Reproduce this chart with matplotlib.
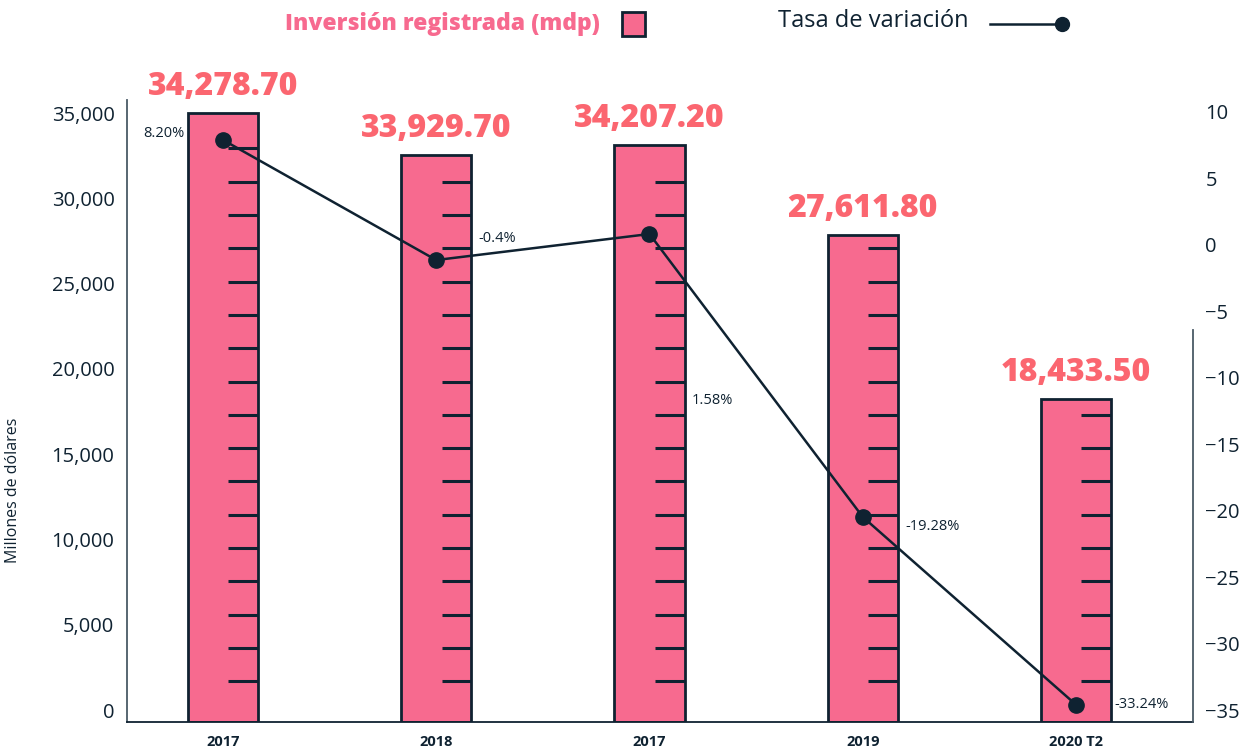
import numpy as np
import matplotlib
matplotlib.use("Agg")
import matplotlib.pyplot as plt
from matplotlib.patches import Rectangle
from matplotlib.lines import Line2D

plt.rcParams['font.family'] = ['Open Sans', 'DejaVu Sans']

# datos
anios = ['2017', '2018', '2017', '2019', '2020 T2']
barras = [34994, 32532, 33118, 27842, 18230]          # altura dibujada
etiquetas_barras = ['34,278.70', '33,929.70', '34,207.20', '27,611.80', '18,433.50']
tasa = [7.9, -1.14, 0.82, -20.47, -34.6]
etiquetas_tasa = ['8.20%', '-0.4%', '1.58%', '-19.28%', '-33.24%']

rosa = '#F76A8F'
rosa_txt = '#FB6670'
azul = '#0F2231'

fig = plt.figure(figsize=(12.52, 7.51), dpi=100)
ax = fig.add_axes([0.1014, 0.0386, 0.8514, 0.8282])
ax2 = ax.twinx()

y0 = -703
x = np.arange(len(anios))
ancho = 0.33
ax.bar(x, np.array(barras) - y0, bottom=y0, width=ancho, color=rosa,
       edgecolor=azul, linewidth=2.0, zorder=2)

# marcas tipo regla dentro de las barras
niveles = np.arange(1680, 35000, 1953)
for xi, h in zip(x, barras):
    nv = niveles[niveles < h - 500]
    ax.hlines(nv, xi + ancho / 2 - 0.14, xi + ancho / 2, color=azul,
              linewidth=2.2, zorder=3)

for xi, h, t in zip(x, barras, etiquetas_barras):
    ax.text(xi, h + 1550, t, ha='center', va='center', fontsize=23,
            fontweight='heavy', color=rosa_txt)

ax.set_xlim(-0.45, 4.548)
ax.set_ylim(y0, 35762)
ax.set_yticks(np.arange(0, 35001, 5000))
ax.set_yticklabels([f'{v:,}' for v in range(0, 35001, 5000)])
ax.set_xticks(x)
ax.set_xticklabels(anios, fontsize=10.5, fontweight='bold', color=azul)
ax.tick_params(axis='y', length=0, pad=9, labelsize=14.5, labelcolor=azul)
ax.tick_params(axis='x', length=0, pad=9)
ax.set_ylabel('Millones de dólares', fontsize=11.5, color=azul)
ax.yaxis.set_label_coords(-0.099, 0.373)

for s in ['top', 'right']:
    ax.spines[s].set_visible(False)
ax.spines['left'].set_color('#4a5a66')
ax.spines['bottom'].set_color(azul)
ax.spines['left'].set_linewidth(1.3)
ax.spines['bottom'].set_linewidth(1.3)

# tasa de variacion
ax2.plot(x, tasa, color=azul, linewidth=1.8, marker='o', markersize=11, zorder=4)
ax2.set_ylim(-35.9, 10.9)
ax2.set_yticks(np.arange(-35, 11, 5))
ax2.tick_params(axis='y', length=0, pad=9, labelsize=14.5, labelcolor=azul)
for s in ['top', 'left', 'bottom']:
    ax2.spines[s].set_visible(False)
ax2.spines['right'].set_bounds(-35.9, -6.4)
ax2.spines['right'].set_color('#4a5a66')
ax2.spines['right'].set_linewidth(1.3)

desp = [(-0.18, 0.5, 'right'), (0.2, 1.6, 'left'), (0.2, -12.5, 'left'),
        (0.2, -0.75, 'left'), (0.18, 0.0, 'left')]
for xi, v, t, (dx, dy, ha) in zip(x, tasa, etiquetas_tasa, desp):
    ax2.text(xi + dx, v + dy, t, ha=ha, va='center', fontsize=10.5, color=azul)

# leyenda
fig.text(600 / 1252, 1 - 24 / 751, 'Inversión registrada (mdp)', ha='right',
         va='center', fontsize=16.5, fontweight='heavy', color=rosa)
fig.patches.append(Rectangle((622 / 1252, 1 - 36 / 751), 23 / 1252, 24 / 751,
                             transform=fig.transFigure, facecolor=rosa,
                             edgecolor=azul, linewidth=2))
fig.text(778 / 1252, 1 - 21 / 751, 'Tasa de variación', ha='left', va='center',
         fontsize=17, color=azul)
fig.lines.append(Line2D([990 / 1252, 1062 / 1252], [1 - 24 / 751, 1 - 24 / 751],
                        transform=fig.transFigure, color=azul, linewidth=1.8))
fig.lines.append(Line2D([1062 / 1252], [1 - 24 / 751], transform=fig.transFigure,
                        color=azul, marker='o', markersize=10))

fig.savefig('out.png', dpi=100)
